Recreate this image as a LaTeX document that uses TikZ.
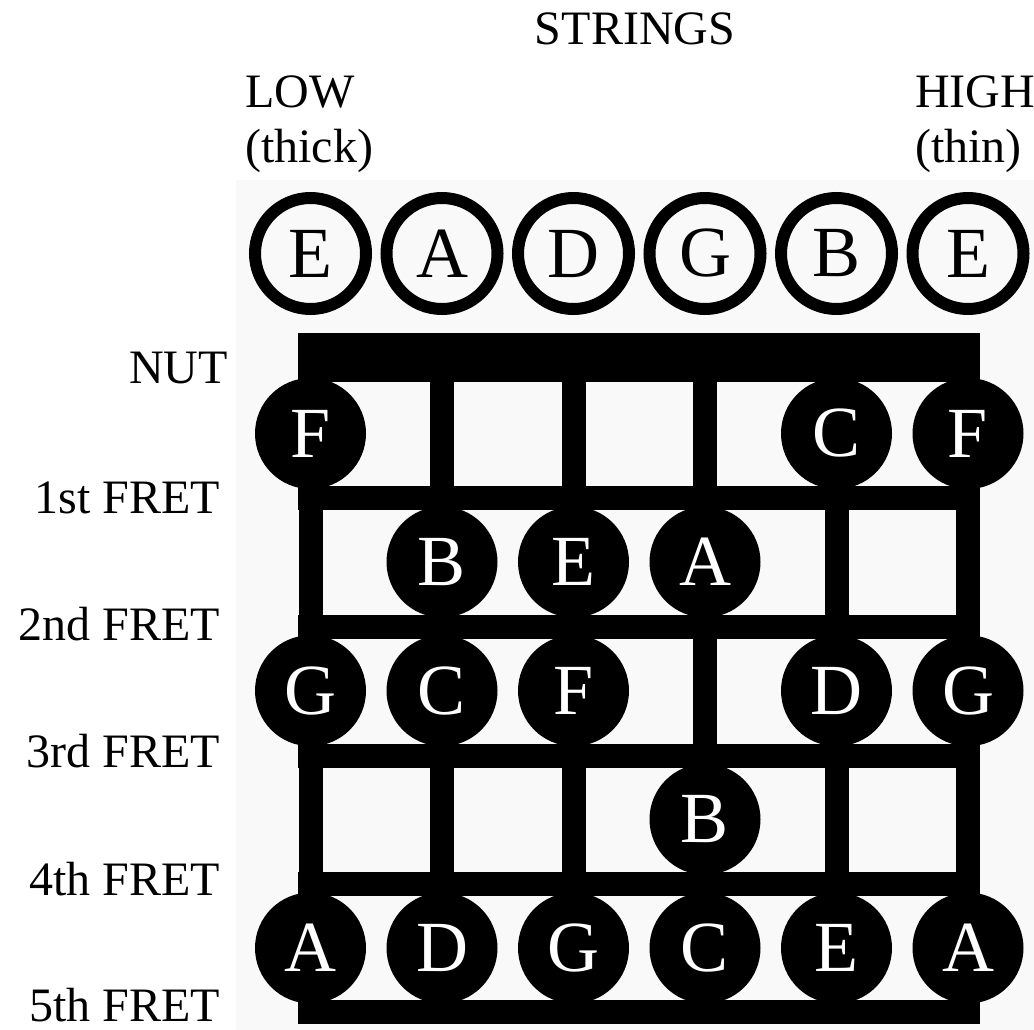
\documentclass[tikz,border=0pt]{standalone}
\usepackage{fontspec}
\setmainfont{Liberation Serif}
\definecolor{bggray}{HTML}{F9F9F9}
\tikzset{
  lbl/.style={inner sep=0pt, text depth=0pt, font=\fontsize{48}{55}\selectfont},
  opennote/.style={circle, draw=black, line width=12pt, minimum size=111pt, inner sep=0pt, font=\fontsize{72}{80}\selectfont},
  fretnote/.style={circle, fill=black, text=white, minimum size=111pt, inner sep=0pt, font=\fontsize{72}{80}\selectfont},
  stringline/.style={line width=24pt, black},
  fretline/.style={line width=24pt, black}
}
\begin{document}
\begin{tikzpicture}[x=1pt, y=-1pt]
\useasboundingbox (0,0) rectangle (1034,1030);
\fill[bggray] (236,180) rectangle (1034,1030);
% headings
\node[lbl, anchor=base] (strings) at (635,45) {STRINGS};
\node[lbl, anchor=base west] (low) at (245,108) {LOW};
\node[lbl, anchor=base west] (thick) at (245,163) {(thick)};
\node[lbl, anchor=base west] (high) at (915,108) {HIGH};
\node[lbl, anchor=base west] (thin) at (915,163) {(thin)};
% left labels
\node[lbl, anchor=base east] (nutlbl) at (228,383) {NUT};
\node[lbl, anchor=base east] (f1lbl) at (220,513) {1st FRET};
\node[lbl, anchor=base east] (f2lbl) at (220,640) {2nd FRET};
\node[lbl, anchor=base east] (f3lbl) at (220,767) {3rd FRET};
\node[lbl, anchor=base east] (f4lbl) at (220,895) {4th FRET};
\node[lbl, anchor=base east] (f5lbl) at (220,1021) {5th FRET};
% strings
\foreach \sx in {310.5,442,573.5,705,836.5,968}
  \draw[stringline] (\sx,340) -- (\sx,1024);
% frets
\foreach \fy in {497.5,627,755.5,884,1012}
  \draw[fretline] (298,\fy) -- (980,\fy);
% nut
\fill[black] (298,333) rectangle (980,382);
% open strings
\node[opennote] (o1) at (310.5,253.5) {E};
\node[opennote] (o2) at (442,253.5) {A};
\node[opennote] (o3) at (573.5,253.5) {D};
\node[opennote] (o4) at (705,253.5) {G};
\node[opennote] (o5) at (836.5,253.5) {B};
\node[opennote] (o6) at (968,253.5) {E};
% row 1
\node[fretnote] (a1) at (310.5,433.5) {F};
\node[fretnote] (a5) at (836.5,433.5) {C};
\node[fretnote] (a6) at (968,433.5) {F};
% row 2
\node[fretnote] (b2) at (442,562) {B};
\node[fretnote] (b3) at (573.5,562) {E};
\node[fretnote] (b4) at (705,562) {A};
% row 3
\node[fretnote] (c1) at (310.5,690.7) {G};
\node[fretnote] (c2) at (442,690.7) {C};
\node[fretnote] (c3) at (573.5,690.7) {F};
\node[fretnote] (c5) at (836.5,690.7) {D};
\node[fretnote] (c6) at (968,690.7) {G};
% row 4
\node[fretnote] (d4) at (705,819.3) {B};
% row 5
\node[fretnote] (e1) at (310.5,948) {A};
\node[fretnote] (e2) at (442,948) {D};
\node[fretnote] (e3) at (573.5,948) {G};
\node[fretnote] (e4) at (705,948) {C};
\node[fretnote] (e5) at (836.5,948) {E};
\node[fretnote] (e6) at (968,948) {A};
\end{tikzpicture}
\end{document}
